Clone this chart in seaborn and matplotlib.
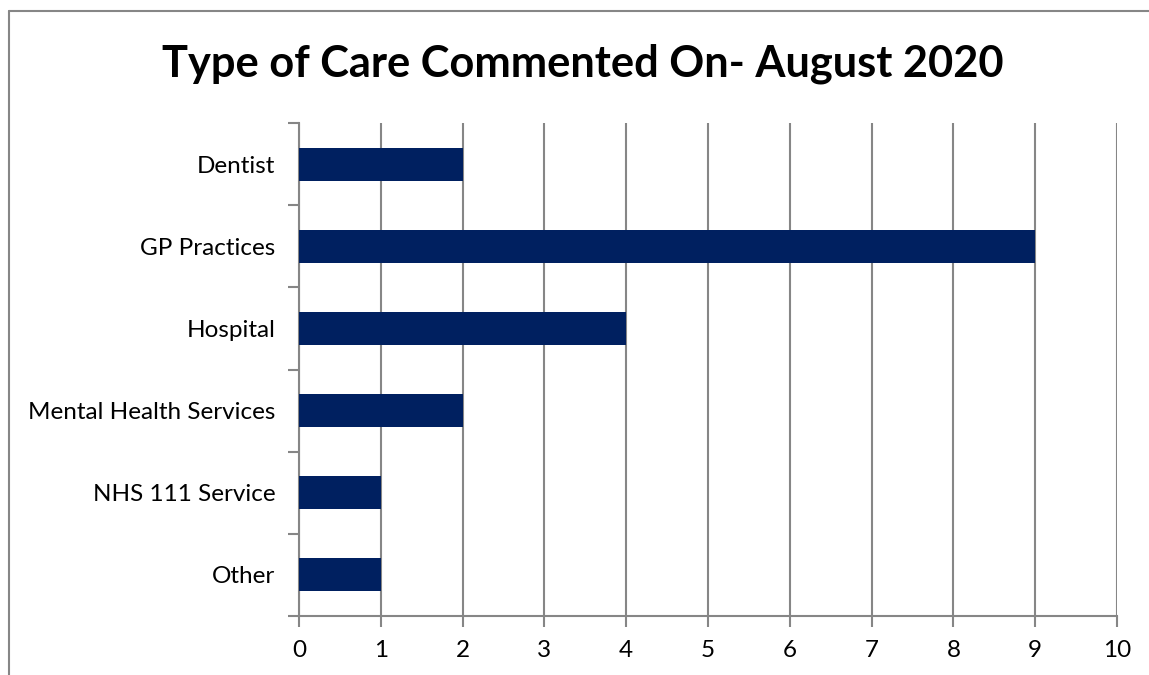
import matplotlib
matplotlib.use("Agg")
import matplotlib.pyplot as plt
from matplotlib.lines import Line2D
import seaborn as sns
import pandas as pd

# Comments received in August 2020, by type of care
categories = ["Dentist", "GP Practices", "Hospital", "Mental Health Services",
              "NHS 111 Service", "Other"]
counts = [2, 9, 4, 2, 1, 1]
x_ticks = list(range(0, 11))

title = "Type of Care Commented On- August 2020"
bar_color = "#002060"
line_gray = "#868686"

sns.set_theme(style="white")
plt.rcParams["font.family"] = ["Lato", "DejaVu Sans"]

df = pd.DataFrame({"category": categories, "count": counts})

W, H = 1149, 675
fig = plt.figure(figsize=(W / 100, H / 100), dpi=100)
# axes area in pixels: left 299, right 1117, top 123, bottom 616
ax = fig.add_axes([299 / W, 1 - 616 / H, (1117 - 299) / W, (616 - 123) / H])

sns.barplot(data=df, x="count", y="category", order=categories,
            color=bar_color, width=0.4, saturation=1, ax=ax, zorder=3,
            edgecolor=bar_color, linewidth=0)

ax.set_xlim(0, 10)
ax.set_ylim(len(categories) - 0.5, -0.5)
ax.set_xticks(x_ticks)
ax.set_xticklabels([str(t) for t in x_ticks])
ax.set_xlabel("")
ax.set_ylabel("")

# vertical gridlines at each integer
ax.grid(axis="x", color=line_gray, linewidth=1.5, zorder=0)
ax.grid(axis="y", visible=False)
ax.set_axisbelow(True)

for side in ["top", "right"]:
    ax.spines[side].set_visible(False)
for side in ["left", "bottom"]:
    ax.spines[side].set_color(line_gray)
    ax.spines[side].set_linewidth(1.5)

# category labels without marks; boundary marks drawn as minor ticks
ax.tick_params(axis="y", which="major", length=0, pad=17, labelsize=17.5,
               labelcolor="black")
ax.set_yticks([i - 0.5 for i in range(len(categories) + 1)], minor=True)
ax.tick_params(axis="y", which="minor", length=8, width=1.5, color=line_gray,
               direction="out", left=True)
ax.tick_params(axis="x", which="major", length=8, width=1.5, color=line_gray,
               direction="out", bottom=True, pad=9, labelsize=17.5,
               labelcolor="black")

fig.text(583 / W, 1 - 64 / H, title, ha="center", va="center",
         fontsize=31.2, fontweight="bold", color="black")

# chart area frame (left and top edges)
fig.add_artist(Line2D([9 / W, 9 / W], [0, 1 - 11 / H], transform=fig.transFigure,
                      color=line_gray, linewidth=1.5))
fig.add_artist(Line2D([9 / W, 1], [1 - 11 / H, 1 - 11 / H], transform=fig.transFigure,
                      color=line_gray, linewidth=1.5))

fig.savefig("out.png", dpi=100, facecolor="white")
